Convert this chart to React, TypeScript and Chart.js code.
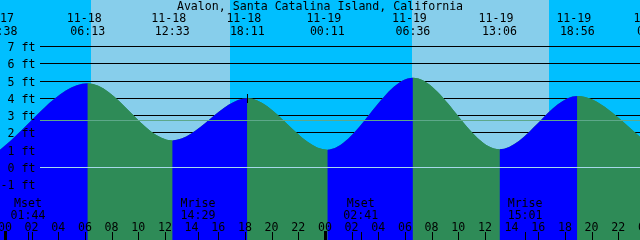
import React, { useEffect, useRef } from 'react';
import { Chart, registerables } from 'chart.js';

Chart.register(...registerables);

const TITLE = 'Avalon, Santa Catalina Island, California';

// tide extremes (date, time, height in ft)
const tideDates = ['11-17', '11-18', '11-18', '11-18', '11-19', '11-19', '11-19', '11-19', '11-20'];
const tideTimes = ['23:38', '06:13', '12:33', '18:11', '00:11', '06:36', '13:06', '18:56', '00:43'];
const tideHeights = [1.0, 4.84, 1.54, 3.97, 1.0, 5.16, 1.02, 4.1, 1.1];
const markerIndex = 3;

// daylight
const sunDates = ['11-18', '11-19'];
const sunriseTimes = ['06:27', '06:32'];
const sunsetTimes = ['16:52', '16:48'];

// moon events
const moonDates = ['11-18', '11-18', '11-19', '11-19'];
const moonEvents = ['Mset', 'Mrise', 'Mset', 'Mrise'];
const moonTimes = ['01:44', '14:29', '02:41', '15:01'];

// axes
const heightTicks = [7, 6, 5, 4, 3, 2, 1, 0, -1];
const hourTickLabels = [
  '00', '02', '04', '06', '08', '10', '12', '14', '16', '18', '20', '22',
  '00', '02', '04', '06', '08', '10', '12', '14', '16', '18', '20', '22', '00',
];
const hourTickNoMark = [14, 38];
const meanLevel = 2.7;
const datumLevel = 0;
const yMin = -4.222;
const yMax = 9.659;

const dayOffset: Record<string, number> = { '11-17': -24, '11-18': 0, '11-19': 24, '11-20': 48 };
const toHours = (d: string, t: string) => {
  const [hh, mm] = t.split(':').map(Number);
  return dayOffset[d] + hh + mm / 60;
};

const NIGHT = '#00BFFF';
const DAY = '#87CEEB';
const RISE = '#0000FF';
const FALL = '#2E8B57';
const FONT = '11.6px "DejaVu Sans Mono", monospace';

const xMin = toHours(tideDates[0], tideTimes[0]);
const xMax = xMin + 48;

const tidePlugin = {
  id: 'tideDecor',
  beforeDatasetsDraw(chart: any) {
    const { ctx, scales } = chart;
    const x = scales.x;
    const y = scales.y;
    const W = chart.width;
    const H = chart.height;
    ctx.save();
    ctx.fillStyle = NIGHT;
    ctx.fillRect(0, 0, W, H);
    ctx.fillStyle = DAY;
    sunDates.forEach((d, i) => {
      const x0 = Math.round(x.getPixelForValue(toHours(d, sunriseTimes[i])));
      const x1 = Math.round(x.getPixelForValue(toHours(d, sunsetTimes[i])));
      ctx.fillRect(x0, 0, x1 - x0, H);
    });
    ctx.fillStyle = '#000';
    heightTicks.forEach((v) => {
      const py = Math.round(y.getPixelForValue(v));
      ctx.fillRect(40, py, W - 40, 1);
    });
    ctx.restore();
  },
  afterDatasetsDraw(chart: any) {
    const { ctx, scales } = chart;
    const x = scales.x;
    const y = scales.y;
    const W = chart.width;
    ctx.save();
    // reference lines
    ctx.fillStyle = '#5DA88A';
    ctx.fillRect(40, Math.round(y.getPixelForValue(meanLevel)), W - 40, 1);
    ctx.fillStyle = '#A6D8EA';
    ctx.fillRect(40, Math.round(y.getPixelForValue(datumLevel)), W - 40, 1);

    // marker at selected extreme
    ctx.fillStyle = '#000';
    const mx = Math.round(x.getPixelForValue(toHours(tideDates[markerIndex], tideTimes[markerIndex])));
    const my = Math.round(y.getPixelForValue(tideHeights[markerIndex]));
    ctx.fillRect(mx, my - 4, 1, 9);

    ctx.font = FONT;
    ctx.fillStyle = '#000';
    ctx.textBaseline = 'alphabetic';

    // title
    ctx.textAlign = 'center';
    ctx.fillText(TITLE, W / 2, 10);

    // tide extreme labels
    tideDates.forEach((d, i) => {
      const px = x.getPixelForValue(toHours(d, tideTimes[i]));
      ctx.fillText(d, px - 3.5, 22);
      ctx.fillText(tideTimes[i], px, 34.5);
    });

    // height labels
    ctx.textAlign = 'right';
    heightTicks.forEach((v) => {
      const py = Math.round(y.getPixelForValue(v));
      ctx.fillText(`${v} ft`, 35.5, py + 4.5);
    });

    // moon labels + marks
    ctx.textAlign = 'center';
    moonDates.forEach((d, i) => {
      const px = x.getPixelForValue(toHours(d, moonTimes[i]));
      ctx.fillText(moonEvents[i], px, 206.5);
      ctx.fillText(moonTimes[i], px, 218.5);
      ctx.fillRect(Math.round(px), 232, 1, 8);
    });

    // hour labels + ticks
    hourTickLabels.forEach((lab, i) => {
      const h = i * 2;
      const px = x.getPixelForValue(h);
      ctx.fillText(lab, px, 230.5);
      if (hourTickNoMark.includes(h)) return;
      if (h % 24 === 0) {
        ctx.fillRect(Math.round(px) - 1, 231, 3, 9);
      } else {
        ctx.fillRect(Math.round(px), 232, 1, 8);
      }
    });
    ctx.restore();
  },
};

export default function App() {
  const ref = useRef<HTMLCanvasElement | null>(null);
  useEffect(() => {
    if (!ref.current) return;
    const data = tideDates.map((d, i) => ({ x: toHours(d, tideTimes[i]), y: tideHeights[i] }));
    const common = {
      data,
      fill: 'start',
      borderColor: 'rgba(0,0,0,0)',
      borderWidth: 0,
      pointRadius: 0,
      cubicInterpolationMode: 'monotone',
    };
    const chart = new Chart(ref.current, {
      type: 'line',
      data: {
        datasets: [
          {
            ...common,
            order: 1,
            backgroundColor: RISE,
            segment: {
              backgroundColor: (c: any) => (c.p1.parsed.y > c.p0.parsed.y ? RISE : FALL),
            },
          } as any,
          {
            ...common,
            order: 2,
            backgroundColor: FALL,
          } as any,
        ],
      },
      options: {
        responsive: false,
        devicePixelRatio: 1,
        animation: false,
        events: [],
        layout: { padding: 0 },
        plugins: { legend: { display: false }, tooltip: { enabled: false }, title: { display: false } },
        scales: {
          x: { type: 'linear', min: xMin, max: xMax, display: false },
          y: { type: 'linear', min: yMin, max: yMax, display: false },
        },
      },
      plugins: [tidePlugin],
    });
    return () => chart.destroy();
  }, []);
  return (
    <div style={{ position: 'fixed', left: 0, top: 0, width: 640, height: 240 }}>
      <canvas ref={ref} width={640} height={240} style={{ display: 'block', width: 640, height: 240 }} />
    </div>
  );
}
